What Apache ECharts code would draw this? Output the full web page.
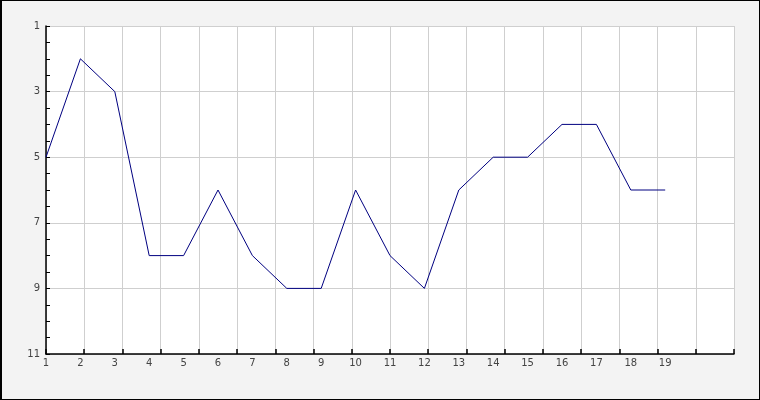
<!DOCTYPE html>
<html>
<head>
<meta charset="utf-8">
<script src="https://cdn.jsdelivr.net/npm/echarts@6/dist/echarts.min.js"></script>
<style>
html,body{margin:0;padding:0;background:#f3f3f3;}
#wrap{width:760px;height:400px;box-sizing:border-box;border:1px solid #000;border-left-width:2px;background:#f3f3f3;position:relative;overflow:hidden;}
#chart{position:absolute;left:-2px;top:-1px;width:760px;height:400px;}
</style>
</head>
<body>
<div id="wrap"><div id="chart"></div></div>
<script>
var categories = [1,2,3,4,5,6,7,8,9,10,11,12,13,14,15,16,17,18,19];
var values = [5,2,3,8,8,6,8,9,9,6,8,9,6,5,5,4,4,6,6];
var yTickLabels = [1,3,5,7,9,11];

var chart = echarts.init(document.getElementById('chart'), null, {renderer:'canvas'});
var seriesData = categories.map(function(c,i){return [c, values[i]];});
var font = {color:'#444', fontSize:10, fontFamily:'DejaVu Sans'};
chart.setOption({
  animation:false,
  backgroundColor:'transparent',
  grid:{left:46, right:26, top:26, bottom:46, show:true, backgroundColor:'#fff', borderWidth:0},
  xAxis:[
    {type:'value', min:0, max:18, interval:1, position:'bottom',
     axisLine:{show:true, onZero:false, lineStyle:{color:'#000', width:1.5}},
     axisTick:{show:true, inside:true, length:5, lineStyle:{color:'#000', width:1.5}},
     axisLabel:{show:false},
     splitLine:{show:true, lineStyle:{color:'#cfcfcf', width:1}}},
    {type:'value', min:1, max:21, interval:1, position:'bottom',
     axisLine:{show:false, onZero:false}, axisTick:{show:false},
     splitLine:{show:false},
     axisLabel:Object.assign({show:true, margin:4, formatter:function(v){return categories.indexOf(v)>=0 ? String(v) : '';}}, font)}
  ],
  yAxis:{type:'value', inverse:true, min:1, max:11, interval:2,
    axisLine:{show:true, onZero:false, lineStyle:{color:'#000', width:1.5}},
    axisTick:{show:true, inside:true, length:4, lineStyle:{color:'#000'}},
    minorTick:{show:true, splitNumber:4, length:4, lineStyle:{color:'#000'}},
    splitLine:{show:true, lineStyle:{color:'#cfcfcf', width:1}},
    axisLabel:Object.assign({show:true, margin:6, formatter:function(v){return yTickLabels.indexOf(v)>=0 ? String(v) : '';}}, font)},
  series:[{type:'line', xAxisIndex:1, data:seriesData, symbol:'none',
    lineStyle:{color:'#000080', width:1}}]
});
</script>
</body>
</html>
